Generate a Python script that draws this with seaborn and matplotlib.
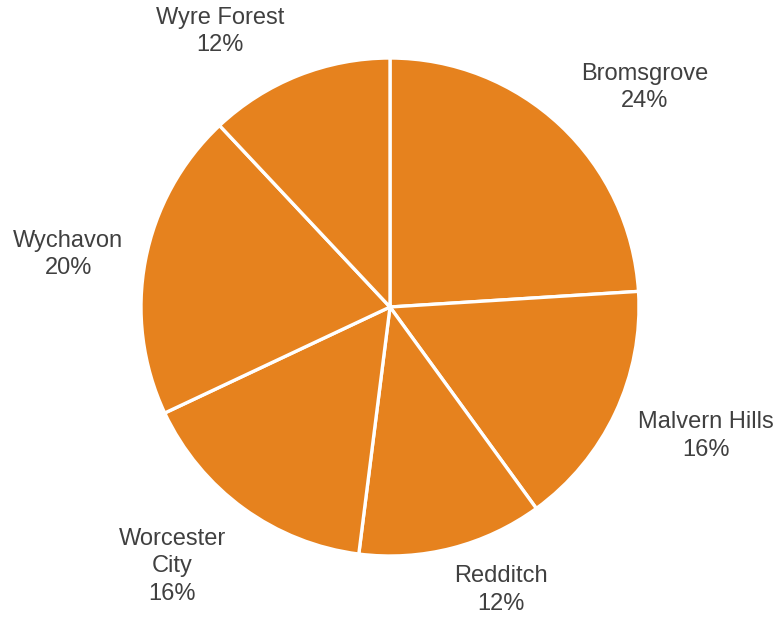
import matplotlib
matplotlib.use("Agg")
import matplotlib.pyplot as plt
import seaborn as sns
import numpy as np

districts = ["Bromsgrove", "Malvern Hills", "Redditch", "Worcester\nCity", "Wychavon", "Wyre Forest"]
shares = [24, 16, 12, 16, 20, 12]
pct_labels = ["24%", "16%", "12%", "16%", "20%", "12%"]

sns.set_theme(style="white")
plt.rcParams['font.family'] = ['Liberation Sans', 'DejaVu Sans']

fig = plt.figure(figsize=(7.79, 6.18), dpi=100)
ax = fig.add_axes([0, 0, 1, 1])
ax.set_axis_off()

orange = "#E6821E"
labels = [f"{d}\n{p}" for d, p in zip(districts, pct_labels)]
wedges, texts = ax.pie(
    shares,
    labels=labels,
    colors=[orange] * len(shares),
    startangle=90,
    counterclock=False,
    radius=1.0,
    labeldistance=1.32,
    wedgeprops=dict(edgecolor="white", linewidth=2.4),
    textprops=dict(fontsize=17, color="#404040"),
)
# small radial/angle nudges of label text to follow reference placement
nudges = {0: (1.35, -6), 1: (1.37, 3), 2: (1.22, 7), 3: (1.36, -4), 4: (1.31, 1.5), 5: (1.30, 10)}
for i, (w, t) in enumerate(zip(wedges, texts)):
    mid = np.deg2rad((w.theta1 + w.theta2) / 2 + nudges[i][1])
    r = nudges[i][0]
    t.set_position((r * np.cos(mid), r * np.sin(mid)))
    t.set_ha("center")
    t.set_va("center")
    t.set_linespacing(1.32)

ax.set_xlim(-1.566, 1.562)
ax.set_ylim(-1.249, 1.233)
ax.set_aspect("equal")

fig.savefig("out.png", dpi=100)
